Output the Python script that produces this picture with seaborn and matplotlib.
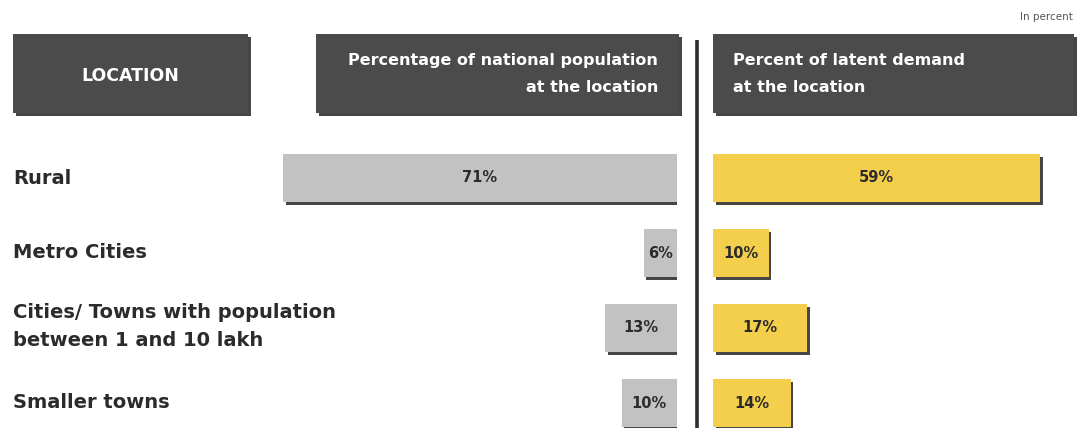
import matplotlib
matplotlib.use("Agg")
import matplotlib.pyplot as plt
import matplotlib.patheffects as pe
from matplotlib.patches import Rectangle
import seaborn as sns
import pandas as pd

# Data
locations = ["Rural", "Metro Cities", "Cities/ Towns with population\nbetween 1 and 10 lakh", "Smaller towns"]
population_share = [71, 6, 13, 10]
latent_demand_share = [59, 10, 17, 14]

header_location = "LOCATION"
header_population = "Percentage of national population\nat the location"
header_demand = "Percent of latent demand\nat the location"
unit_note = "In percent"

GRAY = "#c2c2c2"
YELLOW = "#f4cf4c"
BOX = "#4b4b4b"
SHADOW = "#3c3c3c"
TEXT = "#2b2b2b"

sns.set_theme(style="white")
plt.rcParams["font.family"] = ["DejaVu Sans"]

W, H = 1080, 428
fig = plt.figure(figsize=(W / 100, H / 100), dpi=100)
fig.patch.set_facecolor("white")

# Background layer in pixel coordinates for headers, labels and divider
bg = fig.add_axes([0, 0, 1, 1])
bg.set_xlim(0, W)
bg.set_ylim(H, 0)
bg.set_axis_off()

shadow = [pe.SimplePatchShadow(offset=(2, -2), shadow_rgbFace=SHADOW, alpha=0.95), pe.Normal()]

def header_box(x0, x1, y0, y1):
    r = Rectangle((x0, y0), x1 - x0, y1 - y0, facecolor=BOX, edgecolor="none", zorder=2)
    r.set_path_effects(shadow)
    bg.add_patch(r)

header_box(13, 248, 34, 113)
header_box(316, 679, 34, 113)
header_box(713, 1074, 34, 113)

hdr_style = dict(color="white", fontweight="bold", zorder=3, linespacing=2.0)
bg.text(130, 76, header_location, ha="center", va="center", fontsize=12.5, **hdr_style)
bg.text(658, 74, header_population, ha="right", va="center", multialignment="right",
        fontsize=11.5, **hdr_style)
bg.text(733, 74, header_demand, ha="left", va="center", multialignment="left",
        fontsize=11.5, **hdr_style)
bg.text(1073, 17, unit_note, ha="right", va="center", fontsize=7.5, color="#555555")

# Divider between the two panels
bg.plot([697, 697], [40, H], color="#2e2e2e", lw=2.6, solid_capstyle="butt", zorder=2)

# Bar panels
px_per_pct = 5.55
row_px = 75.0
top_px = 178 - row_px / 2
ymax = -0.5 + (H - top_px) / row_px
ax_h = (H - top_px) / H

left_max = 75
right_max = 65
left_x1 = 677
left_x0 = left_x1 - left_max * px_per_pct
right_x0 = 713
ax_left = fig.add_axes([left_x0 / W, 0, (left_x1 - left_x0) / W, ax_h])
ax_right = fig.add_axes([right_x0 / W, 0, right_max * px_per_pct / W, ax_h])

df = pd.DataFrame({"location": locations, "population": population_share, "demand": latent_demand_share})

sns.barplot(data=df, x="population", y="location", orient="h", color=GRAY,
            saturation=1, width=0.64, ax=ax_left)
sns.barplot(data=df, x="demand", y="location", orient="h", color=YELLOW,
            saturation=1, width=0.64, ax=ax_right)

ax_left.set_xlim(left_max, 0)
ax_right.set_xlim(0, right_max)

for ax, vals in ((ax_left, population_share), (ax_right, latent_demand_share)):
    ax.set_ylim(ymax, -0.5)
    ax.set_axis_off()
    ax.patch.set_alpha(0)
    for p in ax.patches:
        p.set_edgecolor("none")
        p.set_path_effects(shadow)
    ax.bar_label(ax.containers[0], labels=[f"{v}%" for v in vals], label_type="center",
                 fontsize=10.5, fontweight="bold", color=TEXT)

# Row labels
for i, name in enumerate(locations):
    bg.text(13, 178 + i * row_px - (1 if "\n" in name else 0), name, ha="left", va="center",
            fontsize=14, fontweight="bold", color=TEXT, linespacing=1.6)

fig.savefig("out.png", dpi=100, facecolor="white")
